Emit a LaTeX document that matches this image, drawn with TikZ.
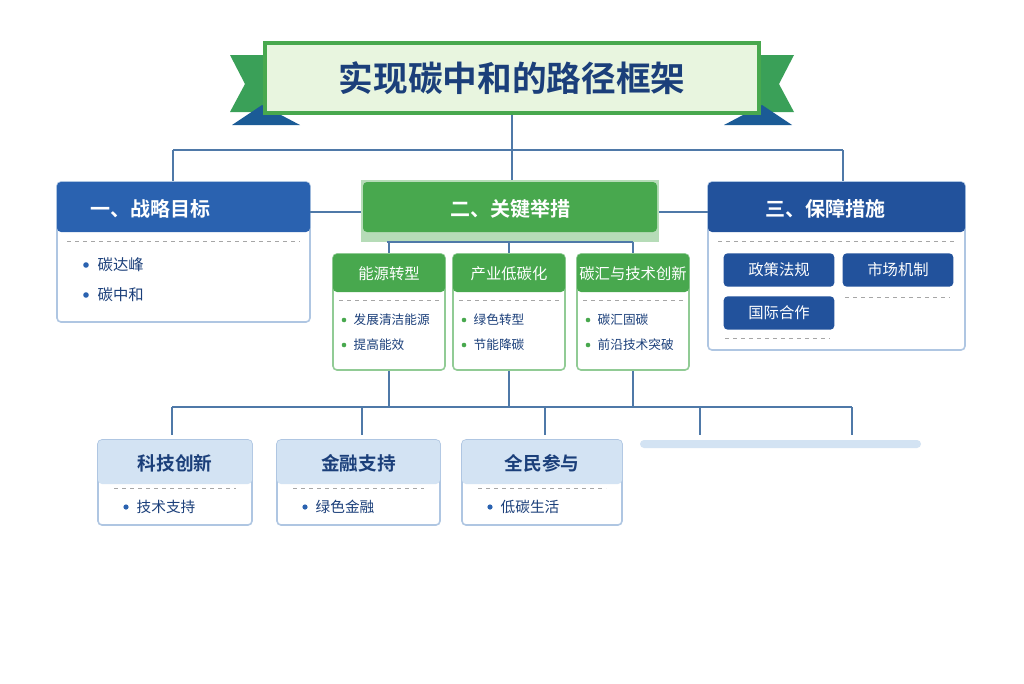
\documentclass[tikz,border=0pt]{standalone}
\usepackage{fontspec}
\setmainfont{Noto Sans CJK SC}
\newfontfamily\cjkb{Noto Sans CJK SC Bold}
\usetikzlibrary{positioning}
\definecolor{navy}{HTML}{1B3F7A}
\definecolor{hblue}{HTML}{2A62B0}
\definecolor{dblue}{HTML}{22529C}
\definecolor{hgreen}{HTML}{48A84E}
\definecolor{lgreen}{HTML}{E8F5DF}
\definecolor{lblue}{HTML}{D3E3F3}
\definecolor{line}{HTML}{4F79A8}
\definecolor{frame}{HTML}{AFC6E2}
\tikzset{
  bus/.style={draw=line,line width=2pt},
  card/.style={draw=frame,line width=1.2pt,fill=white,rounded corners=3pt},
  head/.style={text=white,font=\cjkb\fontsize{15}{15}\selectfont},
  sub/.style={text=navy,font=\cjkb\fontsize{10.5}{12}\selectfont},
  item/.style={text=navy,font=\fontsize{11.5}{13}\selectfont,anchor=west},
  btn/.style={fill=dblue,rounded corners=3pt,text=white,font=\fontsize{11.5}{12}\selectfont,minimum width=83pt,minimum height=25pt},
  divider/.style={draw=gray!70,dashed,line width=0.6pt}
}
\begin{document}
\begin{tikzpicture}[x=0.75pt,y=-0.75pt]
\useasboundingbox (0,0) rectangle (1024,683);
\fill[white] (0,0) rectangle (1024,683);

% title ribbon
\fill[hgreen!80!teal] (230,55) -- (275,55) -- (275,112) -- (230,112) -- (245,84) -- cycle;
\fill[dblue!80!teal] (232,125) -- (300,125) -- (262,105) -- cycle;
\fill[hgreen!80!teal] (794,55) -- (749,55) -- (749,112) -- (794,112) -- (779,84) -- cycle;
\fill[dblue!80!teal] (792,125) -- (724,125) -- (762,105) -- cycle;
\node[draw=hgreen,line width=3pt,fill=lgreen,minimum width=370pt,minimum height=52pt,
  text=navy,font=\cjkb\fontsize{26}{28}\selectfont] (title) at (512,78) {实现碳中和的路径框架};

% level one
\coordinate (t1) at (173,150); \coordinate (t3) at (843,150);
\draw[bus] (title.south) -- (512,150);
\draw[bus] (t1) -- (t3);
\draw[bus] (t1) -- (173,182);
\draw[bus] (t3) -- (843,182);
\draw[bus] (512,150) -- (512,182);

\draw[card] (57,182) rectangle (310,322);
\fill[hblue,rounded corners=3pt] (57,182) rectangle (310,232);
\node[head] (goal) at (150,209) {一、战略目标};
\draw[divider] (67,241) -- (300,241);
\fill[hblue] (86,265) circle (2.8); \node[item] (peak) at (93,265) {碳达峰};
\fill[hblue] (86,295) circle (2.8); \node[item] (neutral) at (93,295) {碳中和};

\draw[card] (708,182) rectangle (965,350);
\fill[dblue,rounded corners=3pt] (708,182) rectangle (965,232);
\node[head] (guar) at (825,209) {三、保障措施};
\draw[divider] (718,241) -- (955,241);
\node[btn] (policy) at (779,270) {政策法规};
\node[btn] (market) at (898,270) {市场机制};
\node[btn] (intl) at (779,313) {国际合作};
\draw[divider] (845,297) -- (950,297);
\draw[divider] (725,338) -- (830,338);

\draw[bus] (310,212) -- (363,212);
\draw[bus] (657,212) -- (708,212);
\fill[hgreen!40] (361,180) rectangle (659,242);
\fill[hgreen,rounded corners=3pt] (363,182) rectangle (657,232);
\node[head] (keys) at (510,209) {二、关键举措};

% key measures
\draw[bus] (387,242) -- (633,242);
\foreach \x/\n/\h/\a/\b in {389/energy/能源转型/发展清洁能源/提高能效,
                             509/industry/产业低碳化/绿色转型/节能降碳,
                             633/sink/碳汇与技术创新/碳汇固碳/前沿技术突破} {
  \draw[bus] (\x,242) -- (\x,254);
  \draw[bus] (\x,370) -- (\x,407);
  \draw[draw=hgreen!60,line width=1.2pt,fill=white,rounded corners=3pt] (\x-56,254) rectangle (\x+56,370);
  \fill[hgreen,rounded corners=3pt] (\x-56,254) rectangle (\x+56,292);
  \node[text=white,font=\fontsize{11.5}{12}\selectfont] (\n) at (\x,274) {\h};
  \draw[divider] (\x-50,300) -- (\x+50,300);
  \fill[hgreen] (\x-45,320) circle (2.3); \node[item,font=\fontsize{9.5}{11}\selectfont] at (\x-40,320) {\a};
  \fill[hgreen] (\x-45,345) circle (2.3); \node[item,font=\fontsize{9.5}{11}\selectfont] at (\x-40,345) {\b};
}

% support
\draw[bus] (172,407) -- (852,407);
\foreach \x in {172,362,545,700,852} \draw[bus] (\x,407) -- (\x,435);
\fill[lblue,rounded corners=3pt] (640,440) rectangle (921,448);
\foreach \l/\r/\n/\h/\a in {98/252/tech/科技创新/技术支持, 277/440/fin/金融支持/绿色金融, 462/622/pub/全民参与/低碳生活} {
  \draw[card] (\l,440) rectangle (\r,525);
  \fill[lblue,rounded corners=3pt] (\l,440) rectangle (\r,484);
  \node[sub,font=\cjkb\fontsize{14}{14}\selectfont] (\n) at ({(\l+\r)/2},463) {\h};
  \draw[divider] (\l+16,488) -- (\r-16,488);
  \fill[hblue] (\l+28,507) circle (2.6);
  \node[item,font=\fontsize{11}{12}\selectfont] at (\l+34,507) {\a};
}
\end{tikzpicture}
\end{document}
